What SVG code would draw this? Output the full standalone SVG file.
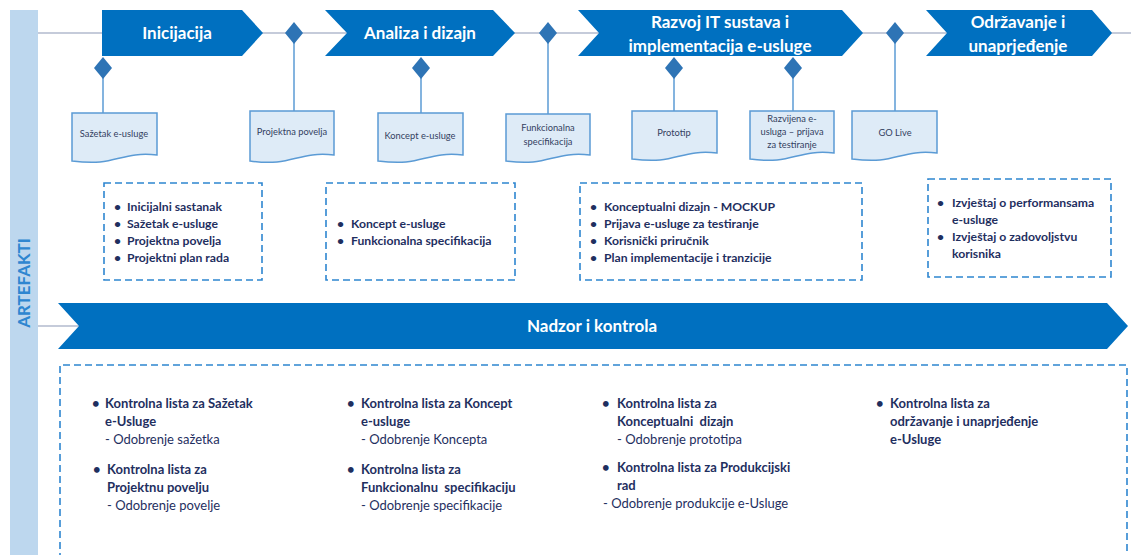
<svg xmlns="http://www.w3.org/2000/svg" width="1131" height="555" viewBox="0 0 1131 555">
<style>
.phase{fill:#0070c0}
.ptxt{font-family:Lato,"Liberation Sans",sans-serif;font-weight:bold;font-size:17px;fill:#ffffff;text-anchor:middle}
.dia{fill:#2e74b5}
.hline{stroke:#8b97b5;stroke-width:1.2;fill:none}
.vline{stroke:#5b9bd5;stroke-width:1.5;fill:none}
.doc{fill:#deebf7;stroke:#5b9bd5;stroke-width:1.5}
.dtxt{font-family:Lato,"Liberation Sans",sans-serif;font-size:9.3px;fill:#333f5f;text-anchor:middle}
.box{fill:none;stroke:#2e86d0;stroke-width:1.6;stroke-dasharray:7,4}
.btxt{font-family:Lato,"Liberation Sans",sans-serif;font-weight:bold;font-size:12.2px;fill:#1f2f5f}
.ktxt{font-family:Lato,"Liberation Sans",sans-serif;font-weight:bold;font-size:13px;fill:#1f2f5f}
.ntxt{font-family:Lato,"Liberation Sans",sans-serif;font-size:13px;fill:#1f2f5f}
</style>

<g id="artefakti-bar">
<rect x="10" y="10" width="28" height="545" fill="#bdd7ee"/>
<text x="0" y="0" transform="translate(30,283) rotate(-90)" font-family="Lato,'Liberation Sans',sans-serif" font-weight="bold" font-size="17" fill="#2e86d0" text-anchor="middle">ARTEFAKTI</text>
</g>

<g id="connectors">
<line class="hline" x1="38" y1="33" x2="1131" y2="33"/>
<line class="hline" x1="38" y1="326" x2="79" y2="326"/>
<line class="vline" x1="103" y1="76" x2="103" y2="113"/>
<line class="vline" x1="294" y1="40" x2="294" y2="111"/>
<line class="vline" x1="421" y1="76" x2="421" y2="113"/>
<line class="vline" x1="548" y1="40" x2="548" y2="114"/>
<line class="vline" x1="674" y1="76" x2="674" y2="111"/>
<line class="vline" x1="793" y1="76" x2="793" y2="111"/>
<line class="vline" x1="895" y1="40" x2="895" y2="111"/>
</g>

<g id="phase-inicijacija">
<path class="phase" d="M102,10 H242 L263,33 L242,56 H102 Z"/>
<text class="ptxt" x="177" y="39">Inicijacija</text>
</g>
<g id="phase-analiza">
<path class="phase" d="M325,10 H493 L515,33 L493,56 H325 L347,33 Z"/>
<text class="ptxt" x="420" y="39">Analiza i dizajn</text>
</g>
<g id="phase-razvoj">
<path class="phase" d="M578,10 H842 L863,33 L842,56 H578 L599,33 Z"/>
<text class="ptxt" x="720" y="28">Razvoj IT sustava i</text>
<text class="ptxt" x="720" y="52">implementacija e-usluge</text>
</g>
<g id="phase-odrzavanje">
<path class="phase" d="M926,10 H1092 L1112,33 L1092,56 H926 L947,33 Z"/>
<text class="ptxt" x="1018" y="28">Održavanje i</text>
<text class="ptxt" x="1018" y="52">unaprjeđenje</text>
</g>

<g id="milestones">
<path class="dia" d="M294,22 L303,33 L294,44 L285,33 Z"/>
<path class="dia" d="M548,22 L557,33 L548,44 L539,33 Z"/>
<path class="dia" d="M895,22 L904,33 L895,44 L886,33 Z"/>
<path class="dia" d="M103,57 L112,68 L103,79 L94,68 Z"/>
<path class="dia" d="M421,57 L430,68 L421,79 L412,68 Z"/>
<path class="dia" d="M674,57 L683,68 L674,79 L665,68 Z"/>
<path class="dia" d="M793,57 L802,68 L793,79 L784,68 Z"/>
</g>

<g id="doc-sazetak">
<path class="doc" d="M72,113 H157 V155 C130,152 120,160 100,162 C88,163 80,162 72,161 Z"/>
<text class="dtxt" x="114" y="137">Sažetak e-usluge</text>
</g>
<g id="doc-povelja">
<path class="doc" d="M250,111 H334 V155 C307,152 297,160 277,162 C265,163 257,162 250,161 Z"/>
<text class="dtxt" x="292" y="135">Projektna povelja</text>
</g>
<g id="doc-koncept">
<path class="doc" d="M378,113 H463 V155 C436,152 426,160 406,162 C394,163 386,162 378,161 Z"/>
<text class="dtxt" x="420" y="139">Koncept e-usluge</text>
</g>
<g id="doc-funkcionalna">
<path class="doc" d="M506,114 H590 V155 C563,152 553,160 533,162 C521,163 513,162 506,161 Z"/>
<text class="dtxt" x="548" y="131">Funkcionalna</text>
<text class="dtxt" x="548" y="145">specifikacija</text>
</g>
<g id="doc-prototip">
<path class="doc" d="M632,111 H717 V153 C690,150 680,158 660,160 C648,161 640,160 632,159 Z"/>
<text class="dtxt" x="674" y="136">Prototip</text>
</g>
<g id="doc-razvijena">
<path class="doc" d="M750,111 H834 V153 C807,150 797,158 777,160 C765,161 757,160 750,159 Z"/>
<text class="dtxt" x="792" y="122">Razvijena e-</text>
<text class="dtxt" x="792" y="135">usluga – prijava</text>
<text class="dtxt" x="792" y="148">za testiranje</text>
</g>
<g id="doc-golive">
<path class="doc" d="M852,111 H937 V153 C910,150 900,158 880,160 C868,161 860,160 852,159 Z"/>
<text class="dtxt" x="895" y="136">GO Live</text>
</g>

<g id="box-inicijacija">
<rect class="box" x="104" y="183" width="158" height="97"/>
<text class="btxt" x="114" y="211">•</text><text class="btxt" x="127" y="211">Inicijalni sastanak</text>
<text class="btxt" x="114" y="228">•</text><text class="btxt" x="127" y="228">Sažetak e-usluge</text>
<text class="btxt" x="114" y="245">•</text><text class="btxt" x="127" y="245">Projektna povelja</text>
<text class="btxt" x="114" y="262">•</text><text class="btxt" x="127" y="262">Projektni plan rada</text>
</g>
<g id="box-analiza">
<rect class="box" x="326" y="183" width="189" height="97"/>
<text class="btxt" x="337" y="228">•</text><text class="btxt" x="351" y="228">Koncept e-usluge</text>
<text class="btxt" x="337" y="245">•</text><text class="btxt" x="351" y="245">Funkcionalna specifikacija</text>
</g>
<g id="box-razvoj">
<rect class="box" x="580" y="183" width="282" height="97"/>
<text class="btxt" x="590" y="211">•</text><text class="btxt" x="604" y="211">Konceptualni dizajn - MOCKUP</text>
<text class="btxt" x="590" y="228">•</text><text class="btxt" x="604" y="228">Prijava e-usluge za testiranje</text>
<text class="btxt" x="590" y="245">•</text><text class="btxt" x="604" y="245">Korisnički priručnik</text>
<text class="btxt" x="590" y="262">•</text><text class="btxt" x="604" y="262">Plan implementacije i tranzicije</text>
</g>
<g id="box-odrzavanje">
<rect class="box" x="928" y="179" width="183" height="98"/>
<text class="btxt" x="937" y="207">•</text><text class="btxt" x="952" y="207">Izvještaj o performansama</text>
<text class="btxt" x="952" y="224">e-usluge</text>
<text class="btxt" x="937" y="241">•</text><text class="btxt" x="952" y="241">Izvještaj o zadovoljstvu</text>
<text class="btxt" x="952" y="258">korisnika</text>
</g>

<g id="nadzor">
<path class="phase" d="M58,303 H1107 L1128,326 L1107,349 H58 L79,326 Z"/>
<text class="ptxt" x="592" y="332">Nadzor i kontrola</text>
</g>

<g id="box-kontrola">
<path class="box" d="M60,560 V365 H1127 V560"/>
<text class="ktxt" x="92" y="408">•</text><text class="ktxt" x="105" y="408">Kontrolna lista za Sažetak</text>
<text class="ktxt" x="105" y="426">e-Usluge</text>
<text class="ntxt" x="105" y="444">- Odobrenje sažetka</text>
<text class="ktxt" x="93" y="474">•</text><text class="ktxt" x="107" y="474">Kontrolna lista za</text>
<text class="ktxt" x="107" y="492">Projektnu povelju</text>
<text class="ntxt" x="107" y="510">- Odobrenje povelje</text>

<text class="ktxt" x="347" y="408">•</text><text class="ktxt" x="361" y="408">Kontrolna lista za Koncept</text>
<text class="ktxt" x="361" y="426">e-usluge</text>
<text class="ntxt" x="361" y="444">- Odobrenje Koncepta</text>
<text class="ktxt" x="347" y="474">•</text><text class="ktxt" x="361" y="474">Kontrolna lista za</text>
<text class="ktxt" x="361" y="492" xml:space="preserve">Funkcionalnu  specifikaciju</text>
<text class="ntxt" x="361" y="510">- Odobrenje specifikacije</text>

<text class="ktxt" x="602" y="408">•</text><text class="ktxt" x="617" y="408">Kontrolna lista za</text>
<text class="ktxt" x="617" y="426" xml:space="preserve">Konceptualni  dizajn</text>
<text class="ntxt" x="617" y="444">- Odobrenje prototipa</text>
<text class="ktxt" x="602" y="472">•</text><text class="ktxt" x="617" y="472">Kontrolna lista za Produkcijski</text>
<text class="ktxt" x="617" y="490">rad</text>
<text class="ntxt" x="603" y="508">- Odobrenje produkcije e-Usluge</text>

<text class="ktxt" x="876" y="408">•</text><text class="ktxt" x="890" y="408">Kontrolna lista za</text>
<text class="ktxt" x="890" y="426">održavanje i unaprjeđenje</text>
<text class="ktxt" x="890" y="444">e-Usluge</text>
</g>
</svg>
